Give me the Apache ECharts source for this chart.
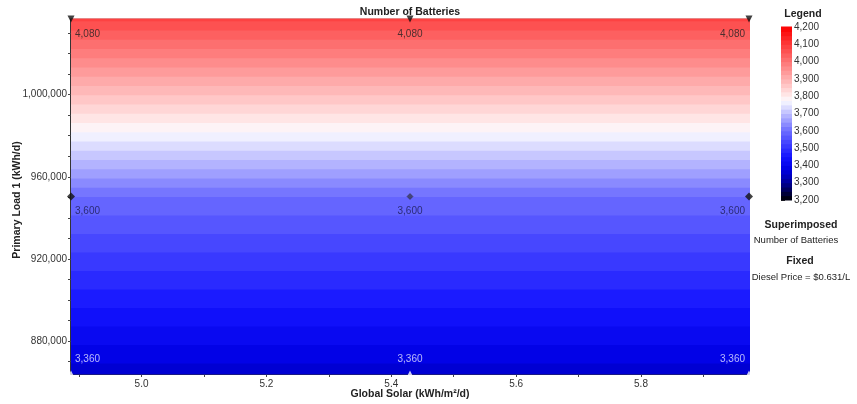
<!DOCTYPE html>
<html>
<head>
<meta charset="utf-8">
<title>Number of Batteries</title>
<script src="https://cdn.jsdelivr.net/npm/echarts@6/dist/echarts.min.js"></script>
<style>
  html, body { margin: 0; padding: 0; background: #fff; }
  #chart { width: 857px; height: 404px; }
</style>
</head>
<body>
<div id="chart"></div>
<script>
// Sensitivity grid: global solar (x) by primary load (y)
const solarValues = [4.887, 5.43, 5.973];
const loadValues = [864000, 950400, 1036800];
// Number of batteries: one list per load value, one entry per solar value
const batteriesAtLoad1 = [3360, 3360, 3360];
const batteriesAtLoad2 = [3600, 3600, 3600];
const batteriesAtLoad3 = [4080, 4080, 4080];
// Superimposed point
const basePoint = [5.43, 950400];
// Axis ticks and labels
const xLabelValues = [5.0, 5.2, 5.4, 5.6, 5.8];
const xTickValues = [4.9, 5.0, 5.1, 5.2, 5.3, 5.4, 5.5, 5.6, 5.7, 5.8, 5.9];
const yLabelValues = [880000, 920000, 960000, 1000000];
const yTickValues = [870000, 880000, 890000, 900000, 910000, 920000, 930000, 940000,
  950000, 960000, 970000, 980000, 990000, 1000000, 1010000, 1020000, 1030000];
const legendMin = 3200;
const legendMax = 4200;
const legendStep = 100;
const bandStep = 25;

const batteryRows = [batteriesAtLoad1, batteriesAtLoad2, batteriesAtLoad3];
const FONT = 'Arial, "Liberation Sans", sans-serif';

// black -> blue -> white -> red colour scale
const colorStops = [
  [3200, [0, 0, 0]],
  [3300, [0, 0, 150]],
  [3380, [0, 0, 228]],
  [3450, [20, 20, 255]],
  [3600, [108, 108, 255]],
  [3775, [250, 250, 255]],
  [3800, [255, 236, 236]],
  [4200, [252, 0, 0]]
];
function colorFor(v) {
  if (v <= colorStops[0][0]) return 'rgb(' + colorStops[0][1].join(',') + ')';
  for (let i = 1; i < colorStops.length; i++) {
    const a = colorStops[i - 1], b = colorStops[i];
    if (v <= b[0]) {
      const t = (v - a[0]) / (b[0] - a[0]);
      const c = a[1].map((ch, k) => Math.round(ch + (b[1][k] - ch) * t));
      return 'rgb(' + c.join(',') + ')';
    }
  }
  return 'rgb(' + colorStops[colorStops.length - 1][1].join(',') + ')';
}
function bandColor(v) {
  return colorFor(Math.floor(v / bandStep) * bandStep + bandStep / 2);
}
const fmt = v => Number(v).toLocaleString('en-US');

// Cells between neighbouring grid points
const cells = [];
for (let r = 0; r < loadValues.length - 1; r++) {
  for (let c = 0; c < solarValues.length - 1; c++) {
    cells.push([
      solarValues[c], solarValues[c + 1], loadValues[r], loadValues[r + 1],
      batteryRows[r][c], batteryRows[r][c + 1], batteryRows[r + 1][c], batteryRows[r + 1][c + 1]
    ]);
  }
}

function renderCell(params, api) {
  const x0 = api.value(0), x1 = api.value(1), y0 = api.value(2), y1 = api.value(3);
  const v0 = (api.value(4) + api.value(5)) / 2;
  const v1 = (api.value(6) + api.value(7)) / 2;
  const left = api.coord([x0, y0])[0];
  const right = api.coord([x1, y0])[0];
  const children = [];
  const lo = Math.min(v0, v1), hi = Math.max(v0, v1);
  const edges = [lo];
  for (let L = Math.ceil(lo / bandStep) * bandStep; L < hi; L += bandStep) {
    if (L > lo) edges.push(L);
  }
  edges.push(hi);
  const yAt = v => (v1 === v0) ? y0 : y0 + (v - v0) / (v1 - v0) * (y1 - y0);
  if (v0 === v1) {
    const pa = api.coord([x0, y0])[1], pb = api.coord([x0, y1])[1];
    children.push({ type: 'rect', shape: { x: left, y: Math.min(pa, pb), width: right - left + 1, height: Math.abs(pb - pa) },
      style: { fill: bandColor(v0) } });
  } else {
    for (let i = 0; i < edges.length - 1; i++) {
      const a = edges[i], b = edges[i + 1];
      const pa = api.coord([x0, yAt(a)])[1], pb = api.coord([x0, yAt(b)])[1];
      children.push({
        type: 'rect',
        shape: { x: left, y: Math.min(pa, pb) - 0.5, width: right - left + 1, height: Math.abs(pb - pa) + 1 },
        style: { fill: bandColor((a + b) / 2) }
      });
    }
  }
  return { type: 'group', children: children };
}

function renderLegendBar(params, api) {
  const lo = api.value(1), hi = api.value(2);
  const children = [];
  for (let v = lo; v < hi; v += bandStep) {
    const pa = api.coord([0, v]), pb = api.coord([1, v + bandStep]);
    children.push({
      type: 'rect',
      shape: { x: pa[0], y: pb[1] - 0.5, width: pb[0] - pa[0], height: pa[1] - pb[1] + 1 },
      style: { fill: colorFor(v + bandStep / 2) }
    });
  }
  return { type: 'group', children: children };
}

// Value labels at each grid point
const valueLabels = [];
loadValues.forEach((ld, r) => {
  solarValues.forEach((s, c) => {
    const v = batteryRows[r][c];
    const align = c === 0 ? 'left' : (c === solarValues.length - 1 ? 'right' : 'center');
    const dx = c === 0 ? 4 : (c === solarValues.length - 1 ? -4 : 0);
    const dy = r === 0 ? -15 : 15;
    valueLabels.push({
      value: [s, ld, v],
      label: {
        align: align, offset: [dx, dy],
        color: v < 3450 ? '#e4e4ff' : (v < 3775 ? '#1a1a50' : '#222222')
      }
    });
  });
});

// Markers along the plot border
const sMin = solarValues[0], sMax = solarValues[solarValues.length - 1];
const lMin = loadValues[0], lMax = loadValues[loadValues.length - 1];
const topMarks = solarValues.map(s => [s, lMax]);
const bottomMarks = solarValues.map(s => [s, lMin]);
const sideMarks = [];
loadValues.slice(1, -1).forEach(l => { sideMarks.push([sMin, l]); sideMarks.push([sMax, l]); });

const chart = echarts.init(document.getElementById('chart'), null, { renderer: 'canvas' });

const option = {
  animation: false,
  backgroundColor: '#ffffff',
  textStyle: { fontFamily: FONT },
  grid: [
    { left: 71, top: 19, width: 678, height: 355, show: true, borderColor: '#9a9a9a', borderWidth: 1, backgroundColor: 'transparent' },
    { left: 781, top: 27, width: 11, height: 173 }
  ],
  xAxis: [
    {
      gridIndex: 0, type: 'value', min: sMin, max: sMax,
      axisLine: { show: true, onZero: false, lineStyle: { color: '#000', width: 1.5 } },
      axisTick: { show: true, length: 3, lineStyle: { color: '#444' }, customValues: xTickValues },
      axisLabel: { fontSize: 10, color: '#333', margin: 5, customValues: xLabelValues,
        formatter: v => Number(v).toFixed(1) },
      splitLine: { show: false }
    },
    { gridIndex: 1, type: 'value', min: 0, max: 1, show: false }
  ],
  yAxis: [
    {
      gridIndex: 0, type: 'value', min: lMin, max: lMax,
      axisLine: { show: true, onZero: false, lineStyle: { color: '#000', width: 1.5 } },
      axisTick: { show: true, length: 3, lineStyle: { color: '#444' }, customValues: yTickValues },
      axisLabel: { fontSize: 10, color: '#333', margin: 4, customValues: yLabelValues, formatter: fmt },
      splitLine: { show: false }
    },
    {
      gridIndex: 1, type: 'value', position: 'right', min: legendMin, max: legendMax, interval: legendStep,
      axisLine: { show: false },
      axisTick: { show: true, inside: false, length: 4, lineStyle: { color: '#333' } },
      axisLabel: { fontSize: 10, color: '#333', margin: 2, formatter: fmt },
      splitLine: { show: false }
    }
  ],
  series: [
    {
      type: 'custom', xAxisIndex: 0, yAxisIndex: 0,
      renderItem: renderCell,
      encode: { x: [0, 1], y: [2, 3] },
      data: cells,
      silent: true, z: 1
    },
    {
      type: 'custom', xAxisIndex: 1, yAxisIndex: 1,
      renderItem: renderLegendBar,
      encode: { x: 0, y: [1, 2] },
      data: [[0, legendMin, legendMax]],
      silent: true, z: 1
    },
    {
      type: 'scatter', xAxisIndex: 0, yAxisIndex: 0,
      data: valueLabels, symbolSize: 0, clip: false, z: 5, silent: true,
      label: {
        show: true, position: 'inside', fontSize: 10, fontFamily: FONT,
        verticalAlign: 'middle',
        formatter: p => fmt(p.value[2])
      }
    },
    {
      type: 'scatter', data: topMarks, symbol: 'triangle', symbolRotate: 180, symbolSize: 7,
      itemStyle: { color: '#111' }, clip: false, z: 6, silent: true
    },
    {
      type: 'scatter', data: bottomMarks, symbol: 'triangle', symbolSize: 7,
      itemStyle: { color: '#fff' }, clip: false, z: 6, silent: true
    },
    {
      type: 'scatter', data: sideMarks, symbol: 'diamond', symbolSize: 8,
      itemStyle: { color: '#111' }, clip: false, z: 6, silent: true
    },
    {
      type: 'scatter', data: [basePoint], symbol: 'diamond', symbolSize: 6,
      itemStyle: { color: '#3a3a5a', borderColor: '#222', borderWidth: 0.5 }, clip: false, z: 6, silent: true
    }
  ],
  graphic: [
    { type: 'text', x: 410, y: 12, style: { text: 'Number of Batteries', font: 'bold 10.5px ' + FONT, fill: '#222', align: 'center', verticalAlign: 'middle' } },
    { type: 'text', x: 410, y: 394, style: { text: 'Global Solar (kWh/m²/d)', font: 'bold 10.5px ' + FONT, fill: '#222', align: 'center', verticalAlign: 'middle' } },
    { type: 'text', x: 17, y: 200, rotation: Math.PI / 2, style: { text: 'Primary Load 1 (kWh/d)', font: 'bold 10.5px ' + FONT, fill: '#222', align: 'center', verticalAlign: 'middle' } },
    { type: 'text', x: 803, y: 14, style: { text: 'Legend', font: 'bold 10.5px ' + FONT, fill: '#222', align: 'center', verticalAlign: 'middle' } },
    { type: 'text', x: 801, y: 225, style: { text: 'Superimposed', font: 'bold 10.5px ' + FONT, fill: '#222', align: 'center', verticalAlign: 'middle' } },
    { type: 'text', x: 796, y: 240, style: { text: 'Number of Batteries', font: '9.5px ' + FONT, fill: '#222', align: 'center', verticalAlign: 'middle' } },
    { type: 'text', x: 800, y: 261, style: { text: 'Fixed', font: 'bold 10.5px ' + FONT, fill: '#222', align: 'center', verticalAlign: 'middle' } },
    { type: 'text', x: 801, y: 277, style: { text: 'Diesel Price = $0.631/L', font: '9.5px ' + FONT, fill: '#222', align: 'center', verticalAlign: 'middle' } }
  ]
};

chart.setOption(option);
</script>
</body>
</html>
